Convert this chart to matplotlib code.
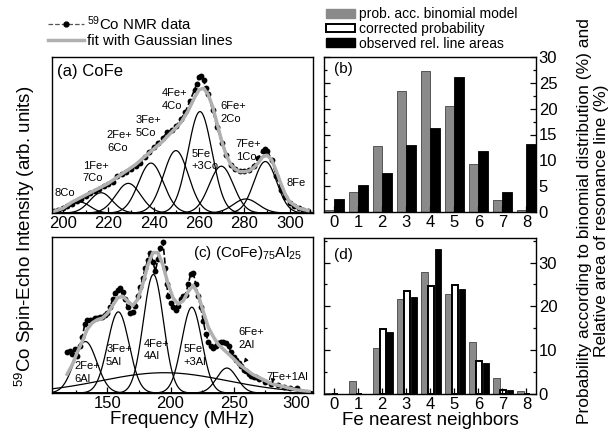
import numpy as np
import matplotlib.pyplot as plt
from matplotlib.lines import Line2D
from matplotlib.patches import Patch
from matplotlib.ticker import MultipleLocator

plt.rcParams['font.family'] = ['Liberation Sans', 'DejaVu Sans']
plt.rcParams['mathtext.fontset'] = 'custom'
plt.rcParams['mathtext.rm'] = 'Liberation Sans'
plt.rcParams['mathtext.it'] = 'Liberation Sans:italic'
plt.rcParams['mathtext.bf'] = 'Liberation Sans:bold'

# ---- (a) CoFe: Gaussian lines (center MHz, height, sigma MHz)
gauss_a_center = [207.5, 216.8, 228.8, 238.8, 249.8, 260.4, 269.8, 280.6, 289.2]
gauss_a_height = [0.07, 0.13, 0.19, 0.32, 0.40, 0.65, 0.30, 0.09, 0.33]
gauss_a_sigma = [4.5, 5.0, 5.5, 5.5, 5.5, 5.3, 5.3, 5.5, 5.0]

freq_a = [196, 198, 200, 202, 204, 206, 208, 210, 212, 214, 216, 218, 220, 222,
          224, 226, 228, 230, 232, 234, 236, 238, 240, 242, 244, 246, 248, 250,
          252, 254, 256, 258, 259, 260, 261, 262, 263, 264, 266, 268, 270, 272,
          274, 276, 278, 280, 282, 284, 286, 288, 289, 290, 292, 294, 296, 298,
          300, 302, 304, 306, 308]
nmr_a = [0.01, 0.02, 0.03, 0.045, 0.06, 0.075, 0.09, 0.11, 0.13, 0.14, 0.155, 0.17,
         0.185, 0.2, 0.235, 0.25, 0.26, 0.28, 0.3, 0.32, 0.36, 0.39, 0.42, 0.45,
         0.48, 0.52, 0.53, 0.56, 0.6, 0.65, 0.72, 0.79, 0.83, 0.87, 0.88, 0.85,
         0.80, 0.76, 0.66, 0.55, 0.45, 0.37, 0.31, 0.28, 0.27, 0.27, 0.275, 0.30,
         0.35, 0.40, 0.41, 0.40, 0.34, 0.24, 0.15, 0.10, 0.065, 0.045, 0.03, 0.02,
         0.015]
fit_freq_a = [196, 200, 204, 208, 212, 216, 220, 224, 228, 232, 236, 240, 244, 248,
              252, 255, 258, 260, 262, 264, 266, 268, 270, 272, 274, 276, 278, 280,
              282, 284, 286, 288, 290, 292, 294, 296, 298, 300, 304, 308]
fit_a = [0.01, 0.03, 0.07, 0.10, 0.13, 0.16, 0.19, 0.23, 0.27, 0.31, 0.36, 0.41,
         0.46, 0.52, 0.58, 0.65, 0.74, 0.79, 0.80, 0.76, 0.68, 0.57, 0.46, 0.37,
         0.31, 0.28, 0.265, 0.265, 0.27, 0.29, 0.32, 0.36, 0.37, 0.34, 0.27, 0.19,
         0.12, 0.07, 0.03, 0.015]
labels_a = ['8Co', '1Fe+\n7Co', '2Fe+\n6Co', '3Fe+\n5Co', '4Fe+\n4Co',
            '5Fe\n+3Co', '6Fe+\n2Co', '7Fe+\n1Co', '8Fe']
label_a_x = [196.5, 208.8, 219.4, 232.2, 243.6, 256.6, 269.2, 276.2, 298.7]
label_a_y = [0.13, 0.263, 0.46, 0.555, 0.73, 0.34, 0.644, 0.40, 0.19]

# ---- (c) (CoFe)75Al25
gauss_c_center = [132.5, 158.6, 186.4, 216.9, 244.7, 195.0]
gauss_c_height = [0.33, 0.52, 0.76, 0.55, 0.16, 0.13]
gauss_c_sigma = [9.0, 8.5, 8.0, 8.0, 8.0, 50.0]

freq_c = [118, 120, 122, 124, 126, 128, 130, 132, 134, 136, 138, 140, 142, 144,
          146, 148, 150, 152, 154, 156, 158, 160, 162, 164, 166, 168, 170, 172,
          174, 176, 178, 180, 182, 184, 186, 188, 190, 192, 194, 196, 197, 198,
          200, 202, 204, 206, 208, 210, 212, 214, 216, 218, 220, 222, 224, 226,
          228, 230, 232, 234, 236, 238, 240, 242, 244, 246, 248, 250, 252, 254,
          256, 258, 260, 262, 264, 266, 268, 270, 275, 280, 285, 290, 295, 300]
nmr_c = [0.26, 0.27, 0.25, 0.28, 0.24, 0.30, 0.36, 0.44, 0.47, 0.47, 0.47, 0.48,
         0.48, 0.49, 0.49, 0.50, 0.51, 0.55, 0.60, 0.64, 0.66, 0.67, 0.65, 0.60,
         0.55, 0.51, 0.52, 0.56, 0.62, 0.68, 0.74, 0.80, 0.85, 0.90, 0.84, 0.78,
         0.86, 0.93, 0.97, 0.80, 0.70, 0.62, 0.58, 0.55, 0.53, 0.56, 0.60, 0.62,
         0.63, 0.70, 0.76, 0.77, 0.70, 0.62, 0.55, 0.46, 0.38, 0.33, 0.30, 0.29,
         0.30, 0.32, 0.33, 0.33, 0.32, 0.30, 0.26, 0.23, 0.21, 0.19, 0.17, 0.15,
         0.14, 0.12, 0.11, 0.10, 0.10, 0.09, 0.07, 0.06, 0.05, 0.04, 0.035, 0.03]
fit_freq_c = [118, 122, 126, 130, 134, 138, 142, 146, 150, 154, 158, 162, 166,
              170, 174, 178, 182, 186, 190, 194, 198, 202, 206, 210, 214, 218,
              222, 226, 230, 234, 238, 242, 246, 250, 255, 260, 265, 270, 280,
              290, 300, 310]
fit_c = [0.12, 0.18, 0.26, 0.33, 0.41, 0.45, 0.47, 0.48, 0.51, 0.56, 0.61, 0.62,
         0.59, 0.56, 0.60, 0.70, 0.82, 0.90, 0.90, 0.82, 0.70, 0.61, 0.57, 0.59,
         0.65, 0.69, 0.63, 0.52, 0.42, 0.36, 0.31, 0.28, 0.25, 0.22, 0.18, 0.15,
         0.12, 0.10, 0.06, 0.04, 0.02, 0.01]
labels_c = ['2Fe+\n6Al', '3Fe+\n5Al', '4Fe+\n4Al', '5Fe\n+3Al', '6Fe+\n2Al', '7Fe+1Al']
label_c_x = [123.5, 148.9, 179.0, 210.2, 253.6, 276.4]
label_c_y = [0.13, 0.24, 0.276, 0.24, 0.35, 0.105]

# ---- (b), (d) neighbor statistics (%)
nn = np.arange(9)
binom_b = [0.4, 3.9, 12.7, 23.5, 27.2, 20.5, 9.2, 2.4, 0.3]
observed_b = [2.6, 5.3, 7.5, 13.0, 16.2, 26.1, 11.9, 3.8, 13.2]
binom_d = [0.2, 3.0, 10.5, 21.6, 27.9, 22.9, 11.8, 3.7, 0.6]
corrected_d = [0.0, 0.0, 14.9, 23.5, 24.7, 24.8, 7.5, 1.0, 0.0]
observed_d = [0.0, 0.0, 14.1, 22.2, 33.2, 23.9, 7.1, 0.9, 0.0]

GRAY = '#8a8a8a'
FIT = '#b0b0b0'

W, H = 615, 433
fig = plt.figure(figsize=(W / 100, H / 100), dpi=100)


def box(l, t, r, b):
    return [l / W, 1 - b / H, (r - l) / W, (b - t) / H]


def spectrum(ax, cen, hgt, sig, fx, fy, dx, dy, xlim):
    xs = np.linspace(xlim[0], xlim[1], 800)
    for c, h, s in zip(cen, hgt, sig):
        ax.plot(xs, h * np.exp(-0.5 * ((xs - c) / s) ** 2), color='k', lw=0.9)
    ax.plot(dx, dy, color='k', ls='--', lw=1.2, marker='o', ms=4.2, mew=0)
    ax.plot(fx, fy, color=FIT, lw=2.5)
    ax.set_xlim(xlim)
    ax.set_ylim(0, 1)
    ax.tick_params(which='both', direction='in', left=False, labelleft=False,
                   labelsize=12, pad=2, width=0.9)
    ax.tick_params(which='major', length=4)
    ax.tick_params(which='minor', length=2.5)
    for s in ax.spines.values():
        s.set_linewidth(1.0)


ax_a = fig.add_axes(box(52, 57, 313, 213))
spectrum(ax_a, gauss_a_center, gauss_a_height, gauss_a_sigma,
         fit_freq_a, fit_a, freq_a, nmr_a, (195.2, 310.2))
ax_a.xaxis.set_major_locator(MultipleLocator(20))
ax_a.xaxis.set_minor_locator(MultipleLocator(10))
ax_a.text(197.4, 0.905, '(a) CoFe', fontsize=12, va='center')
for s, x, y in zip(labels_a, label_a_x, label_a_y):
    ax_a.text(x, y, s, fontsize=8, va='center', linespacing=1.35)

ax_c = fig.add_axes(box(52, 237, 313, 393))
spectrum(ax_c, gauss_c_center, gauss_c_height, gauss_c_sigma,
         fit_freq_c, fit_c, freq_c, nmr_c, (106, 313))
ax_c.xaxis.set_major_locator(MultipleLocator(50))
ax_c.xaxis.set_minor_locator(MultipleLocator(25))
ax_c.text(304, 0.9, r'(c) (CoFe)$_{75}$Al$_{25}$', fontsize=11, ha='right', va='center')
for s, x, y in zip(labels_c, label_c_x, label_c_y):
    ax_c.text(x, y, s, fontsize=8, va='center', linespacing=1.35)
ax_c.annotate('', xy=(256.8, 0.18), xytext=(261.6, 0.23),
              arrowprops=dict(arrowstyle='-|>', color='k', lw=0.7, mutation_scale=6))
ax_c.annotate('', xy=(280.5, 0.045), xytext=(281.5, 0.10),
              arrowprops=dict(arrowstyle='-|>', color='k', lw=0.7, mutation_scale=6))
ax_c.set_xlabel('Frequency (MHz)', fontsize=13.5, labelpad=0)


def bars_axes(ax, ymax, major, minor):
    ax.set_xlim(-0.42, 8.4)
    ax.set_ylim(0, ymax)
    ax.set_xticks(nn)
    ax.yaxis.set_major_locator(MultipleLocator(major))
    ax.yaxis.set_minor_locator(MultipleLocator(minor))
    ax.yaxis.tick_right()
    ax.tick_params(which='both', direction='in', left=True, right=True,
                   labelleft=False, labelright=True, labelsize=12, pad=2, width=0.9)
    ax.tick_params(axis='x', which='both', top=False)
    ax.tick_params(which='major', length=4)
    ax.tick_params(which='minor', length=2.5)
    for s in ax.spines.values():
        s.set_linewidth(1.0)


ax_b = fig.add_axes(box(324, 57, 536, 212))
ax_b.bar(nn - 0.2, binom_b, width=0.4, color=GRAY, edgecolor='#444444', lw=0.6)
ax_b.bar(nn + 0.2, observed_b, width=0.4, color='k', edgecolor='k', lw=0.6)
bars_axes(ax_b, 30, 5, 2.5)
ax_b.text(0.0, 27.6, '(b)', fontsize=11, va='center')

ax_d = fig.add_axes(box(324, 238, 536, 394))
ax_d.bar(nn - 0.24, binom_d, width=0.28, color=GRAY, edgecolor='#444444', lw=0.6)
ax_d.bar(nn + 0.04, corrected_d, width=0.24, color='white', edgecolor='k', lw=1.4)
ax_d.bar(nn + 0.32, observed_d, width=0.28, color='k', edgecolor='k', lw=0.6)
bars_axes(ax_d, 35.6, 10, 5)
ax_d.text(0.0, 31.8, '(d)', fontsize=11, va='center')
ax_d.set_xlabel('Fe nearest neighbors', fontsize=13.5, labelpad=0)

fig.text(25 / W, 1 - 236 / H, r'$^{59}$Co Spin-Echo Intensity (arb. units)',
         rotation=90, fontsize=13.5, ha='center', va='center')
fig.text(593 / W, 1 - 221 / H,
         'Probability according to binomial distribution (%) and\n'
         'Relative area of resonance line (%)',
         rotation=90, fontsize=12.5, ha='center', va='center',
         multialignment='center', linespacing=1.15)

h1 = [Line2D([], [], color='#555555', ls='--', lw=0.9, marker='o', ms=3.5,
             mfc='k', mec='k'),
      Line2D([], [], color=FIT, lw=2.5)]
fig.legend(h1, [r'$^{59}$Co NMR data', 'fit with Gaussian lines'],
           loc='upper left', bbox_to_anchor=(48 / W, 1 - 14 / H), frameon=False,
           fontsize=10.8, handlelength=2.4, handletextpad=0.2, borderpad=0,
           borderaxespad=0, labelspacing=0.12, numpoints=1)

h2 = [Patch(facecolor=GRAY, edgecolor=GRAY),
      Patch(facecolor='white', edgecolor='k', lw=1.4),
      Patch(facecolor='k', edgecolor='k')]
fig.legend(h2, ['prob. acc. binomial model', 'corrected probability',
                'observed rel. line areas'],
           loc='upper left', bbox_to_anchor=(326 / W, 1 - 7 / H), frameon=False,
           fontsize=10, handlelength=2.1, handleheight=0.6, handletextpad=0.3,
           borderpad=0, borderaxespad=0, labelspacing=0.06)

fig.savefig('out.png', dpi=100)
